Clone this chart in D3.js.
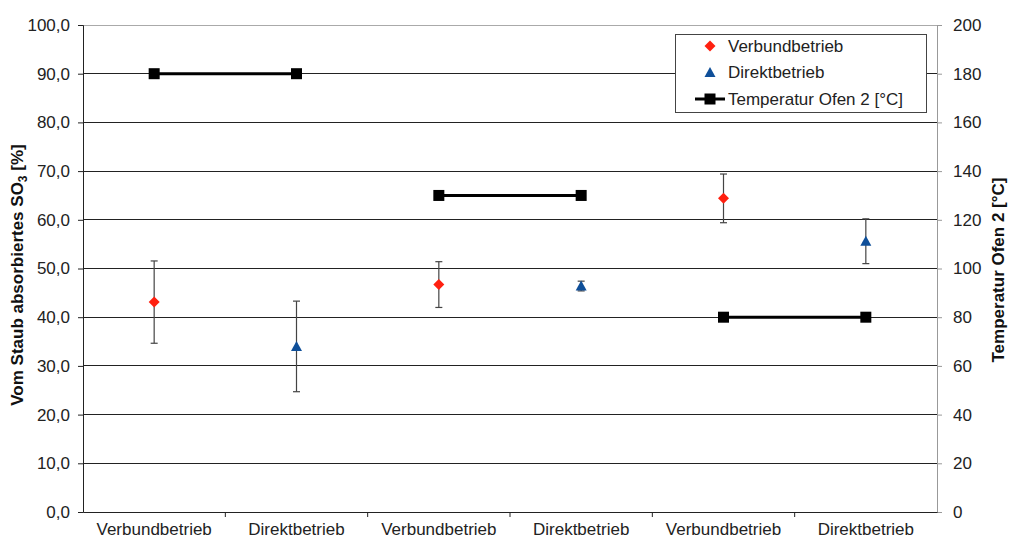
<!DOCTYPE html>
<html><head><meta charset="utf-8">
<script src="https://cdn.jsdelivr.net/npm/d3@7"></script>
<style>body{margin:0;background:#fff}svg{display:block}text{font-family:"Liberation Sans",Arial,sans-serif}</style>
</head><body><svg id="c" width="1009" height="539"></svg>
<script>
const categories = ["Verbundbetrieb","Direktbetrieb","Verbundbetrieb","Direktbetrieb","Verbundbetrieb","Direktbetrieb"];
// Verbundbetrieb at category indices 0,2,4
const verbundIdx = [0,2,4];
const verbundVal = [43.1, 46.7, 64.4];
const verbundErr = [8.45, 4.7, 5.0];
// Direktbetrieb at indices 1,3,5
const direktIdx = [1,3,5];
const direktVal = [34.0, 46.4, 55.6];
const direktErr = [9.3, 1.0, 4.6];
// Temperature (right axis), pairs
const tempVal = [180,180,130,130,80,80];
const leftTicks = [0,10,20,30,40,50,60,70,80,90,100];
const rightTicks = [0,20,40,60,80,100,120,140,160,180,200];

const FS = 17;
const svg = d3.select("#c");
const L=83,R=937,T=25,B=512;
const x = d3.scaleBand().domain(d3.range(categories.length)).range([L,R]);
const y = d3.scaleLinear().domain([0,100]).range([B,T]);
const y2 = d3.scaleLinear().domain([0,200]).range([B,T]);
const cx = i => x(i)+x.bandwidth()/2;
const fmt = d => d.toFixed(1).replace(".",",");

// gridlines
svg.append("g").selectAll("line").data(leftTicks.filter(d=>d>0)).join("line")
  .attr("x1",L).attr("x2",R).attr("y1",d=>y(d)).attr("y2",d=>y(d))
  .attr("stroke",d=>d===100?"#aaa":"#222").attr("stroke-width",1).attr("shape-rendering","crispEdges");

// left axis
const gl = svg.append("g").attr("transform",`translate(${L},0)`)
  .call(d3.axisLeft(y).tickValues(leftTicks).tickFormat(fmt).tickSize(5).tickPadding(8));
gl.select(".domain").attr("stroke","#222");
gl.selectAll(".tick line").attr("stroke","#222");
gl.selectAll("text").attr("font-size",FS).attr("fill","#222");

// right axis
const gr = svg.append("g").attr("transform",`translate(${R},0)`)
  .call(d3.axisRight(y2).tickValues(rightTicks).tickSize(5).tickPadding(11));
gr.select(".domain").attr("stroke","#999");
gr.selectAll(".tick line").attr("stroke","#999");
gr.selectAll("text").attr("font-size",FS).attr("fill","#222");

// bottom axis
const gb = svg.append("g").attr("transform",`translate(0,${B})`)
  .call(d3.axisBottom(x).tickFormat(i=>categories[i]).tickSize(0).tickPadding(11));
gb.select(".domain").attr("stroke","#222");
gb.selectAll("text").attr("font-size",FS).attr("fill","#222");
gb.selectAll("line.sep").data(d3.range(1,categories.length)).join("line")
  .attr("class","sep").attr("x1",i=>x(i)).attr("x2",i=>x(i)).attr("y1",0).attr("y2",5).attr("stroke","#222");

// axis titles
const lt = svg.append("text").attr("transform","translate(23,275) rotate(-90)")
  .attr("text-anchor","middle").attr("font-size",FS).attr("font-weight","bold").attr("fill","#111");
lt.append("tspan").text("Vom Staub absorbiertes SO");
lt.append("tspan").text("3").attr("font-size",12).attr("dy",4);
lt.append("tspan").text(" [%]").attr("dy",-4);
svg.append("text").attr("transform","translate(1004,270) rotate(-90)")
  .attr("text-anchor","middle").attr("font-size",FS).attr("font-weight","bold").attr("fill","#111")
  .text("Temperatur Ofen 2 [°C]");

// temperature lines (pairs)
const pairs = [[0,1],[2,3],[4,5]];
svg.append("g").selectAll("line").data(pairs).join("line")
  .attr("x1",p=>cx(p[0])).attr("x2",p=>cx(p[1]))
  .attr("y1",p=>y2(tempVal[p[0]])).attr("y2",p=>y2(tempVal[p[1]]))
  .attr("stroke","#000").attr("stroke-width",3);
svg.append("g").selectAll("rect").data(tempVal).join("rect")
  .attr("x",(d,i)=>cx(i)-5.5).attr("y",d=>y2(d)-5.5).attr("width",11).attr("height",11).attr("fill","#000");

// error bars
function errbars(idx,vals,errs){
  const g = svg.append("g").attr("stroke","#444").attr("stroke-width",1.2);
  idx.forEach((ci,k)=>{
    const xx=cx(ci), t=y(vals[k]+errs[k]), b=y(vals[k]-errs[k]);
    g.append("line").attr("x1",xx).attr("x2",xx).attr("y1",t).attr("y2",b);
    g.append("line").attr("x1",xx-3.5).attr("x2",xx+3.5).attr("y1",t).attr("y2",t);
    g.append("line").attr("x1",xx-3.5).attr("x2",xx+3.5).attr("y1",b).attr("y2",b);
  });
}
errbars(verbundIdx,verbundVal,verbundErr);
errbars(direktIdx,direktVal,direktErr);

const diamond = "M0,-5.5L5.5,0L0,5.5L-5.5,0Z";
const tri = "M0,-5.5L5.5,4.5L-5.5,4.5Z";
svg.append("g").selectAll("path").data(verbundVal).join("path")
  .attr("d",diamond).attr("fill","#ff2010")
  .attr("transform",(d,k)=>`translate(${cx(verbundIdx[k])},${y(d)})`);
svg.append("g").selectAll("path").data(direktVal).join("path")
  .attr("d",tri).attr("fill","#0f4f99")
  .attr("transform",(d,k)=>`translate(${cx(direktIdx[k])},${y(d)})`);

// legend
const lg = svg.append("g");
lg.append("rect").attr("x",675.5).attr("y",34.5).attr("width",251).attr("height",78)
  .attr("fill","#fff").attr("stroke","#444");
const legendItems = ["Verbundbetrieb","Direktbetrieb","Temperatur Ofen 2 [°C]"];
const ly = [46,72.5,99];
lg.append("path").attr("d",diamond).attr("fill","#ff2010").attr("transform",`translate(710,${ly[0]})`);
lg.append("path").attr("d",tri).attr("fill","#0f4f99").attr("transform",`translate(710,${ly[1]})`);
lg.append("line").attr("x1",695).attr("x2",725).attr("y1",ly[2]).attr("y2",ly[2]).attr("stroke","#000").attr("stroke-width",3);
lg.append("rect").attr("x",704.5).attr("y",ly[2]-5.5).attr("width",11).attr("height",11).attr("fill","#000");
lg.selectAll("text").data(legendItems).join("text")
  .attr("x",728).attr("y",(d,i)=>ly[i]).attr("dy","0.35em").attr("font-size",FS).attr("fill","#222").text(d=>d);
</script></body></html>
